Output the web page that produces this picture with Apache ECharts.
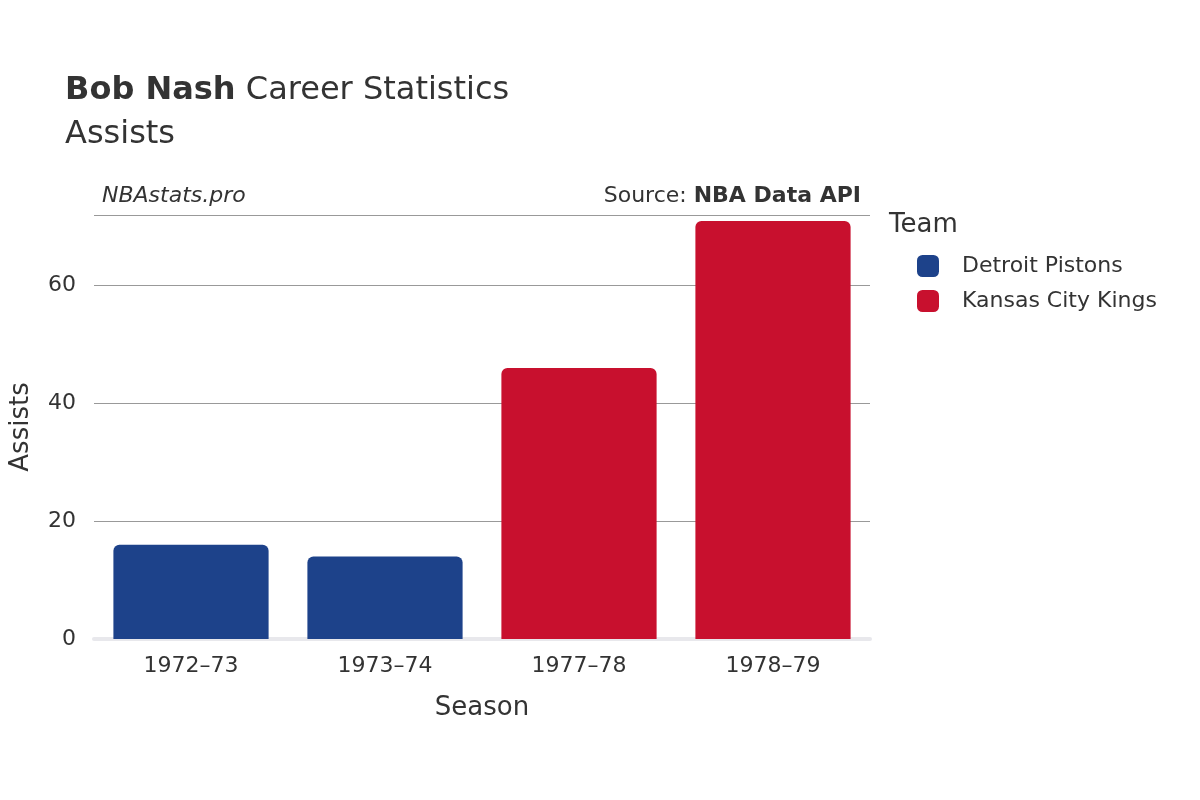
<!DOCTYPE html>
<html>
<head>
<meta charset="utf-8">
<script src="https://cdn.jsdelivr.net/npm/echarts@6/dist/echarts.min.js"></script>
<style>
html, body { margin: 0; padding: 0; background: #fff; }
#main { width: 1200px; height: 800px; }
</style>
</head>
<body>
<div id="main"></div>
<script>
var seasons = ['1972–73', '1973–74', '1977–78', '1978–79'];
var pistons = [16, 14, null, null];
var kings = [null, null, 46, 71];
var yTicks = [0, 20, 40, 60];

var chart = echarts.init(document.getElementById('main'));
var font = 'DejaVu Sans';
chart.setOption({
	animation : false,
	textStyle : { fontFamily : font },
	title : [ {
		text : '{b|Bob Nash} Career Statistics',
		left : 60, top : 70,
		textStyle : {
			fontSize : 32, fontWeight : 'normal', color : '#333',
			rich : { b : { fontSize : 32, fontWeight : 'bold', color : '#333' } }
		}
	}, {
		text : 'Assists', left : 60, top : 114,
		textStyle : { fontSize : 32, fontWeight : 'normal', color : '#333' }
	}, {
		text : 'NBAstats.pro', left : 97, top : 180,
		textStyle : { fontSize : 22, fontStyle : 'italic', fontWeight : 'normal', color : '#333' }
	}, {
		text : 'Source: {b|NBA Data API}', right : 334, top : 180,
		textStyle : {
			fontSize : 22, fontWeight : 'normal', color : '#333',
			rich : { b : { fontSize : 22, fontWeight : 'bold', color : '#333' } }
		}
	} ],
	legend : {
		orient : 'vertical', left : 912, top : 250, itemGap : 13,
		itemWidth : 22, itemHeight : 22, icon : 'roundRect',
		textStyle : { fontSize : 22, color : '#333', padding : [0, 0, 0, 18] },
		data : [ 'Detroit Pistons', 'Kansas City Kings' ]
	},
	graphic : [ {
		type : 'text', left : 889, top : 212,
		style : { text : 'Team', fontSize : 26, fill : '#333', fontFamily : font }
	} ],
	grid : { left : 93, right : 330, top : 215, bottom : 161 },
	xAxis : {
		type : 'category', data : seasons,
		name : 'Season', nameLocation : 'middle', nameGap : 56,
		nameTextStyle : { fontSize : 26, color : '#333' },
		axisLine : { show : true, lineStyle : { color : '#e8e8ec', width : 4 } },
		axisTick : { show : false },
		axisLabel : { fontSize : 22, color : '#333', margin : 16 }
	},
	yAxis : {
		type : 'value', min : 0, max : 72, interval : 20,
		name : 'Assists', nameLocation : 'middle', nameGap : 60,
		nameTextStyle : { fontSize : 26, color : '#333' },
		axisLine : { show : false }, axisTick : { show : false },
		axisLabel : {
			fontSize : 22, color : '#333', margin : 18,
			formatter : function(v) { return yTicks.indexOf(v) >= 0 ? v : ''; }
		},
		splitLine : { lineStyle : { color : '#999', width : 1 } }
	},
	series : [ {
		name : 'Detroit Pistons', type : 'bar', stack : 'a', data : pistons,
		barWidth : '80%', itemStyle : { color : '#1d428a', borderRadius : [6, 6, 0, 0] }
	}, {
		name : 'Kansas City Kings', type : 'bar', stack : 'a', data : kings,
		barWidth : '80%', itemStyle : { color : '#c8102e', borderRadius : [6, 6, 0, 0] }
	} ]
});
</script>
</body>
</html>
